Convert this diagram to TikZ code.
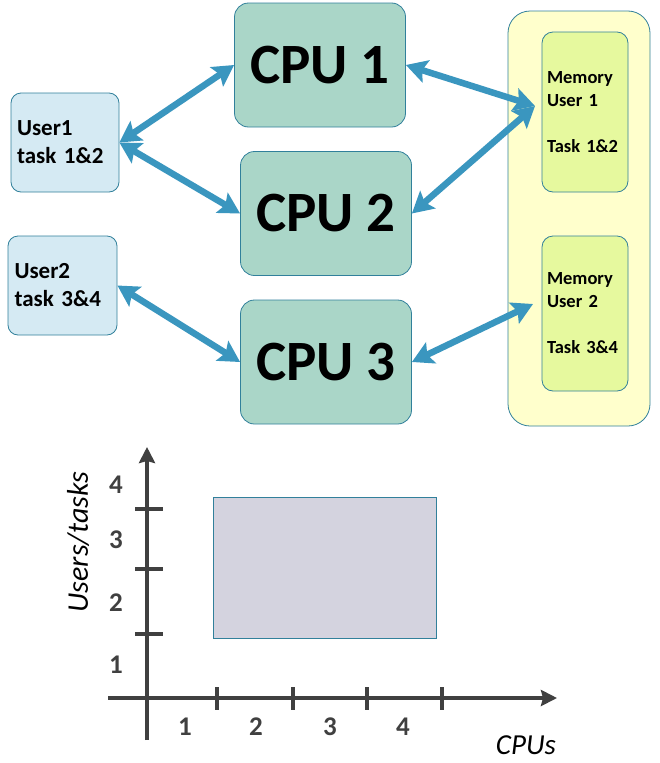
\documentclass[tikz,border=0pt]{standalone}
\usepackage{fontspec}
\setmainfont{Carlito}
\usepackage{tikz}
\usetikzlibrary{positioning}
\usetikzlibrary{arrows.meta}
\definecolor{linkblue}{HTML}{3A96BF}
\definecolor{edgeblue}{HTML}{31809B}
\definecolor{cpufill}{HTML}{AAD6C8}
\definecolor{userfill}{HTML}{D5EAF3}
\definecolor{memfill}{HTML}{FFFFCC}
\definecolor{taskfill}{HTML}{E6F99E}
\definecolor{axisgray}{HTML}{404040}
\definecolor{areafill}{HTML}{D4D3DF}

\begin{document}
\begin{tikzpicture}[x=1pt, y=-1pt, thick]
    \tikzstyle{cpus}=[draw=edgeblue, fill=cpufill, rounded corners=14pt,
                      minimum width=171pt, minimum height=124pt,
                      font=\fontsize{57}{60}\selectfont\bfseries]
    \tikzstyle{users}=[draw=edgeblue, fill=userfill, rounded corners=10pt,
                       minimum width=108pt, minimum height=99pt, text width=96pt,
                       align=left, font=\fontsize{23}{28}\selectfont\bfseries]
    \tikzstyle{mems}=[draw=edgeblue, fill=taskfill, rounded corners=11pt,
                      minimum width=86pt, text width=76pt, align=left,
                      font=\fontsize{18.5}{23}\selectfont\bfseries]
    \tikzstyle{link}=[linkblue, line width=6.5pt,
                      {Stealth[length=21pt,width=23pt,inset=4pt]}-{Stealth[length=21pt,width=23pt,inset=4pt]}]
    \tikzstyle{axis}=[axisgray, line width=4.5pt]
    \tikzstyle{ticklabel}=[axisgray, font=\fontsize{27}{29}\selectfont\bfseries]
    \useasboundingbox (0,0) rectangle (659,763);
    % Memory block
    \node[draw=edgeblue, fill=memfill, rounded corners=22pt,
          minimum width=142pt, minimum height=415pt] (mem) at (579,218.5) {};
    \node[mems, minimum height=160pt] (m1) at (585,112) {Memory\\User 1\\[23pt]Task 1\&2};
    \node[mems, minimum height=155pt] (m2) at (585,313.5) {Memory\\User 2\\[23pt]Task 3\&4};
    \coordinate (mx1) at (535,106);
    \coordinate (mx2) at (533,304);
    % CPUs and users
    \foreach \place/\name/\txt in {(320,65)/c1/CPU 1, (326,213.5)/c2/CPU 2, (326,362)/c3/CPU 3}
        \node[cpus] (\name) at \place {\txt};
    \node[users] (u1) at (65,142.5) {User1\\task 1\&2};
    \node[users, minimum width=109pt] (u2) at (62.5,285.5) {User2\\task 3\&4};
    % Links
    \foreach \from/\to in {u1.east/c1.west, u1.east/c2.west, u2.east/c3.west,
                           c1.east/mx1, c2.east/mx1, c3.east/mx2}
        \draw[link] (\from) -- (\to);
    % Chart
    \fill[areafill, draw=edgeblue, line width=1pt] (213,497) rectangle (436,638);
    \draw[axis, -{Stealth[length=16pt,width=16pt,inset=2pt]}] (147,740) -- (147,447);
    \draw[axis, -{Stealth[length=16pt,width=16pt,inset=2pt]}] (108,698) -- (557,698);
    \foreach \x in {217,293,367,442}
        \draw[axis] (\x,687) -- (\x,710);
    \foreach \y in {509,569,634}
        \draw[axis] (135,\y) -- (163,\y);
    \foreach \x/\t in {185/1, 256/2, 330/3, 403/4}
        \node[ticklabel] at (\x,727) {\t};
    \foreach \y/\t in {665/1, 603/2, 540/3, 485/4}
        \node[ticklabel] at (116,\y) {\t};
    \node[rotate=90, font=\fontsize{30}{32}\selectfont\itshape] at (78,542) {Users/tasks};
    \node[font=\fontsize{29}{32}\selectfont\itshape] at (526,745) {CPUs};
\end{tikzpicture}
\end{document}
